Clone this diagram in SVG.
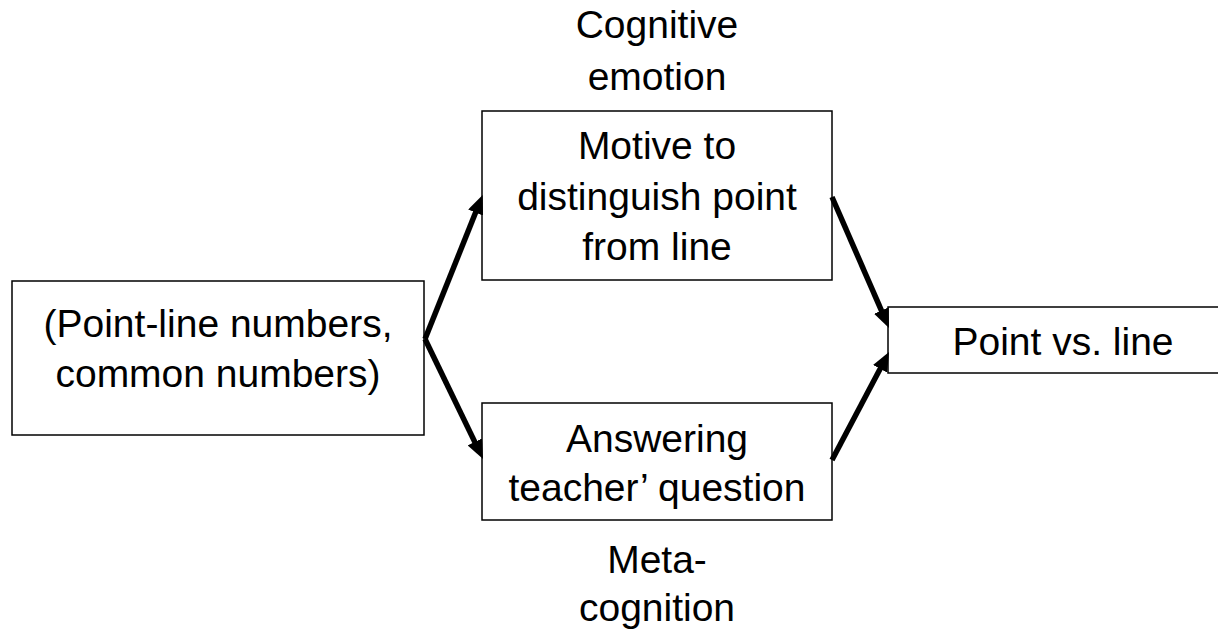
<svg xmlns="http://www.w3.org/2000/svg" width="1218" height="632" viewBox="0 0 1218 632">
  <style>
    .box { fill: #ffffff; stroke: #000000; stroke-width: 1.5; }
    .lbl { font-family: "Liberation Sans", Arial, sans-serif; font-size: 39px; fill: #000000; text-anchor: middle; }
    .arrow { stroke: #000000; stroke-width: 5.5; fill: none; marker-end: url(#head); }
  </style>
  <defs>
    <marker id="head" markerUnits="userSpaceOnUse" markerWidth="19" markerHeight="16" refX="10" refY="8" orient="auto">
      <path d="M0,0 L19,8 L0,16 z" fill="#000000"/>
    </marker>
  </defs>
  <rect width="1218" height="632" fill="#ffffff"/>

  <!-- free labels -->
  <g id="label-cognitive-emotion">
    <text class="lbl" x="657" y="38">Cognitive</text>
    <text class="lbl" x="657" y="90">emotion</text>
  </g>
  <g id="label-metacognition">
    <text class="lbl" x="657" y="573">Meta-</text>
    <text class="lbl" x="657" y="621">cognition</text>
  </g>

  <!-- nodes -->
  <g id="node-numbers">
    <rect class="box" x="12" y="281" width="412" height="154"/>
    <text class="lbl" x="218" y="337">(Point-line numbers,</text>
    <text class="lbl" x="218" y="387">common numbers)</text>
  </g>
  <g id="node-motive">
    <rect class="box" x="482" y="111" width="350" height="169"/>
    <text class="lbl" x="657" y="159">Motive to</text>
    <text class="lbl" x="657" y="210">distinguish point</text>
    <text class="lbl" x="657" y="260">from line</text>
  </g>
  <g id="node-answering">
    <rect class="box" x="482" y="403" width="350" height="117"/>
    <text class="lbl" x="657" y="452">Answering</text>
    <text class="lbl" x="657" y="501">teacher’ question</text>
  </g>
  <g id="node-result">
    <rect class="box" x="888" y="307" width="340" height="66"/>
    <text class="lbl" x="1063" y="355">Point vs. line</text>
  </g>

  <!-- connectors -->
  <g id="connectors">
    <line class="arrow" x1="425" y1="339" x2="479.3" y2="203.3"/>
    <line class="arrow" x1="425" y1="339" x2="479.1" y2="450.9"/>
    <line class="arrow" x1="832" y1="197" x2="885.4" y2="319.7"/>
    <line class="arrow" x1="832" y1="460" x2="884.8" y2="360.0"/>
  </g>
</svg>
